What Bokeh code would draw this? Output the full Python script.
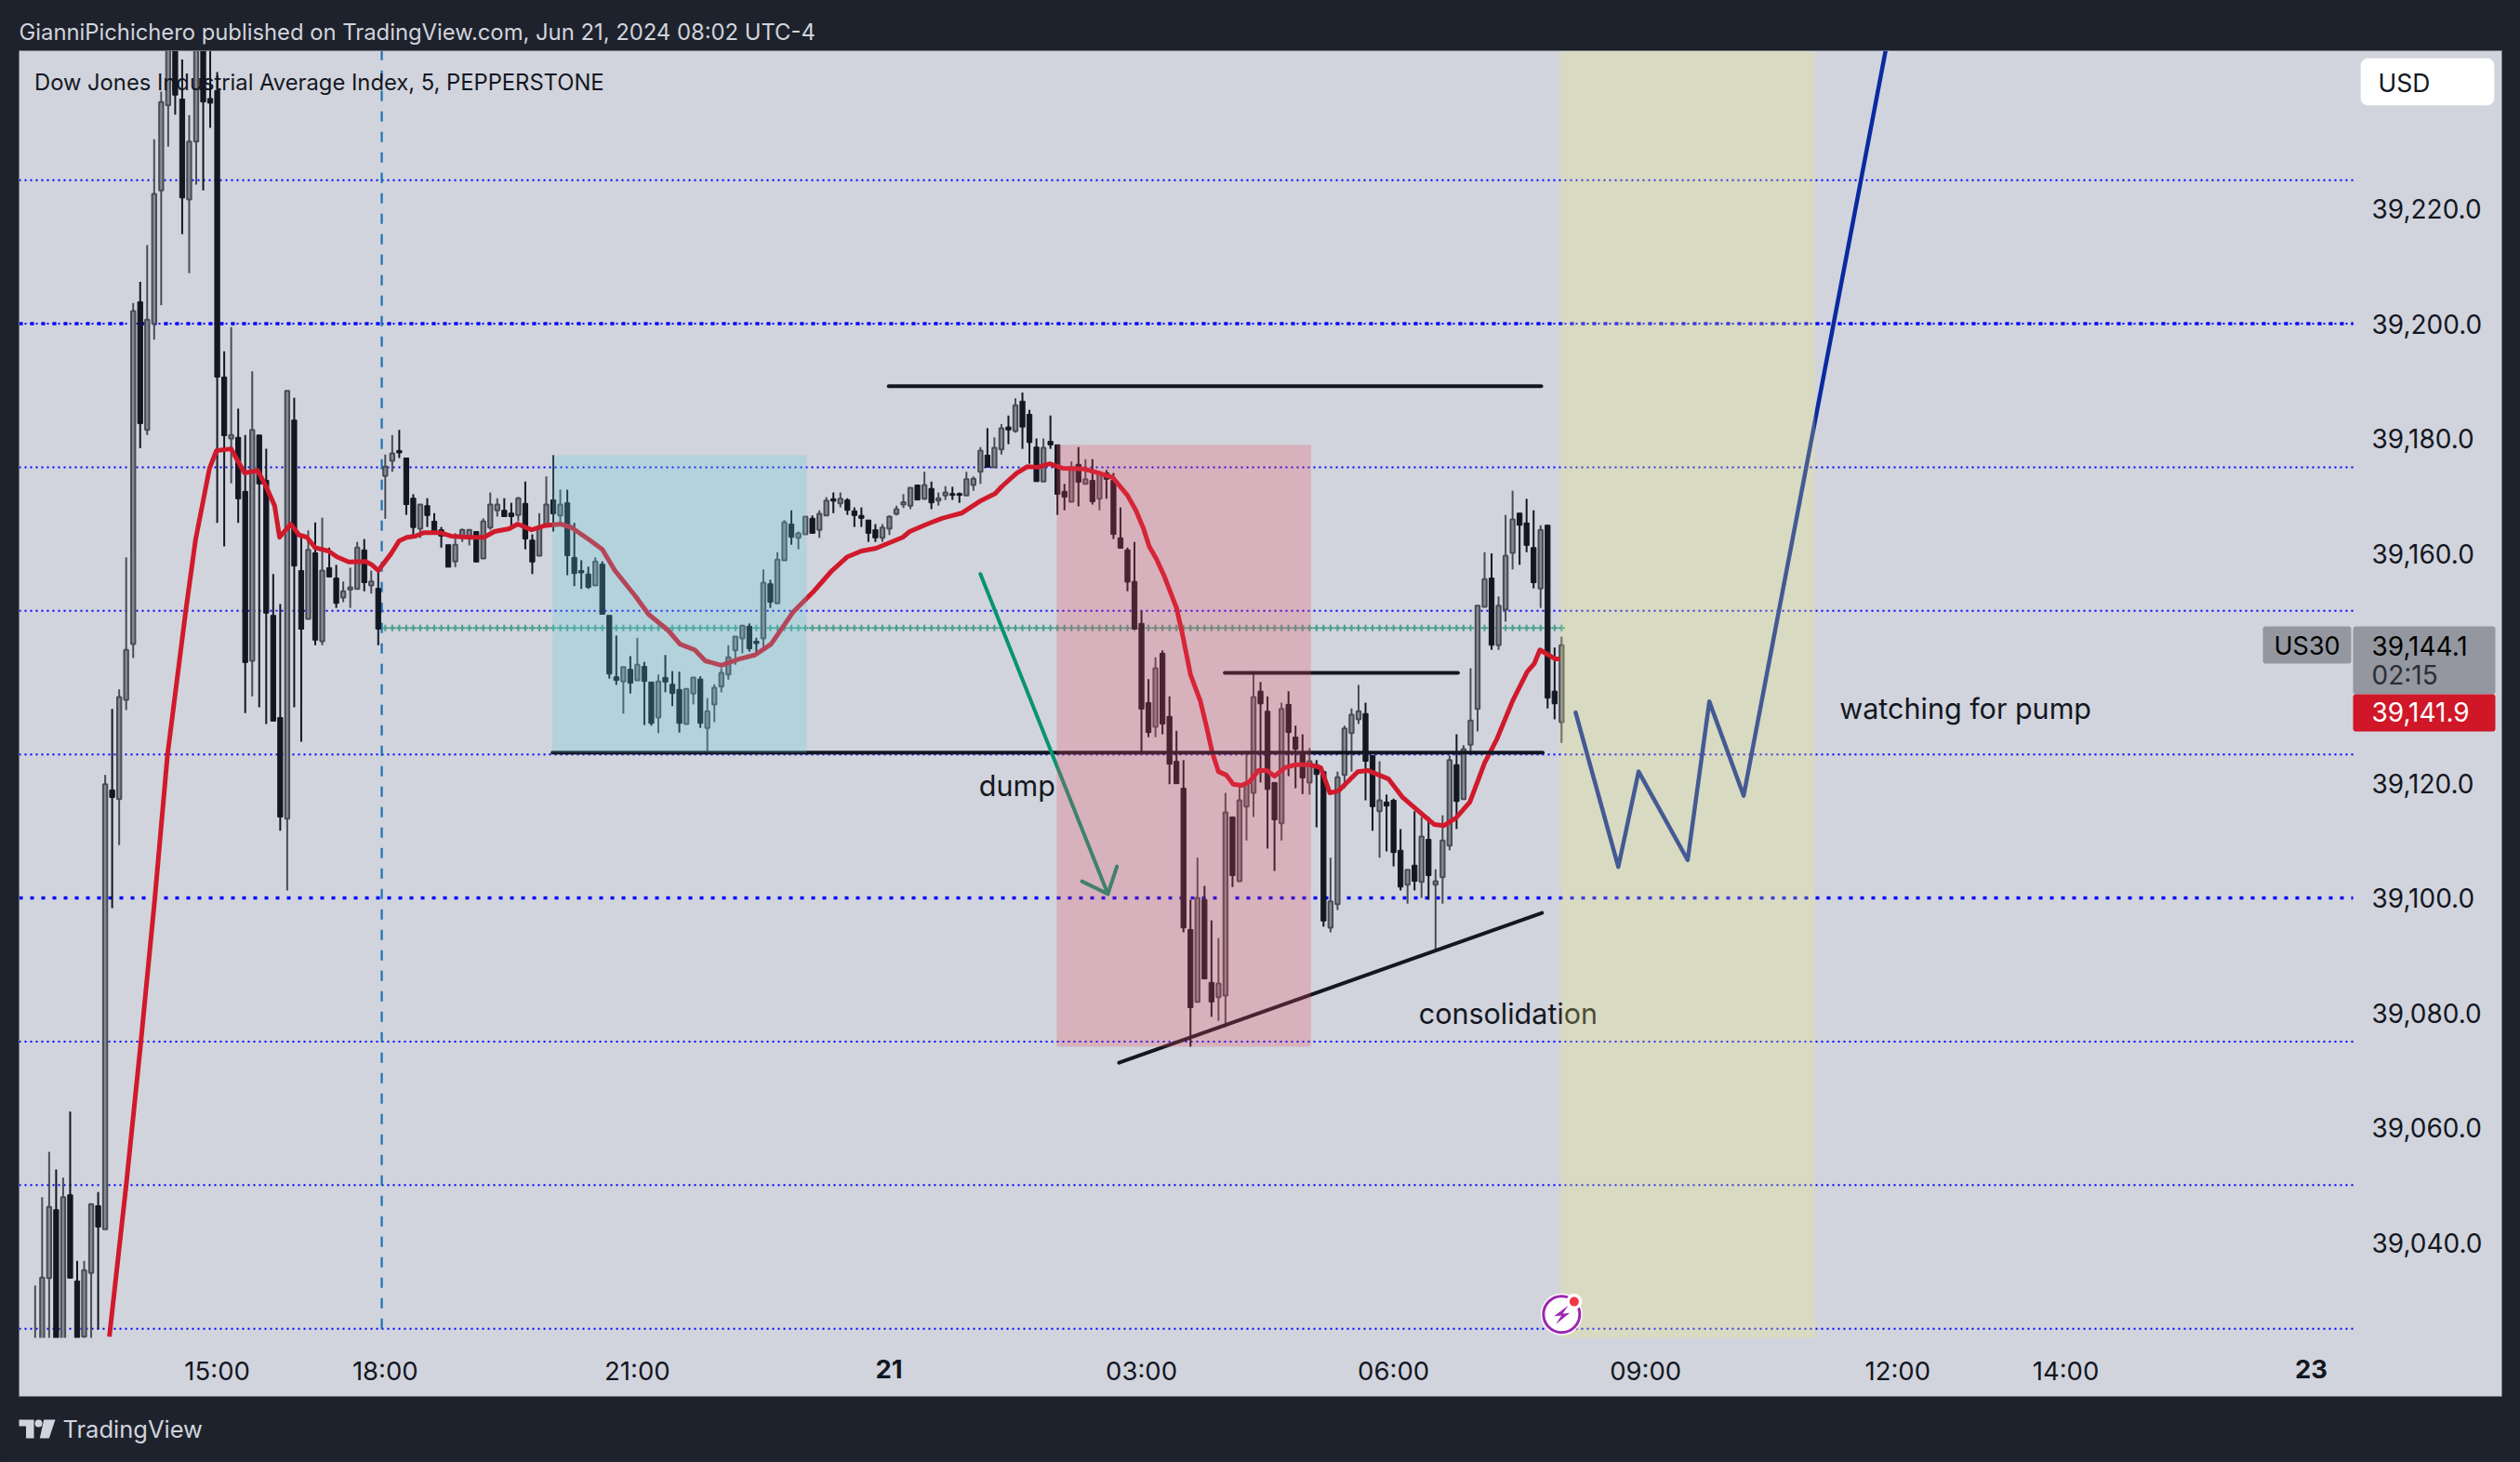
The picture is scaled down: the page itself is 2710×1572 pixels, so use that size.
from bokeh.plotting import figure
from bokeh.embed import file_html
from bokeh.resources import INLINE
from bokeh.core.properties import value
from bokeh.models import (BoxAnnotation, Label, PolyAnnotation, FixedTicker,
                          NumeralTickFormatter, Range1d)

opens = [39020,39015,39033.8,39045.7,39018,39048.3,39033.3,39023.6,39034.7,39046.4,
39042.3,39118.8,39117.2,39134.5,39144.2,39203.8,39181.5,39200,39223.2,39238,
39252,39239.1,39221.6,39231.7,39252,39239.2,39240.6,39190.7,39180,39180.2,
39170.8,39141.3,39180.6,39172.7,39149.2,39131.4,39113.8,39183.2,39157,39148.6,
39160.1,39144.7,39157.5,39155.7,39152.3,39153.7,39153.8,39160.6,39154.4,39153.9,
39173.5,39176.1,39177.9,39176.6,39169.6,39164.3,39168.3,39165.6,39164.1,39161.5,
39158.6,39162.7,39163,39163.8,39159.1,39164.5,39167.5,39167.5,39167,39166.7,
39168.7,39162.3,39159.6,39165.1,39169.3,39166.6,39168.8,39159.3,39157,39156.4,
39154.4,39158.1,39149.2,39138.5,39137.7,39139.8,39137.9,39140.3,39137.6,39131.4,
39138.4,39137.2,39136.3,39130.3,39135.6,39138.1,39129.6,39133.7,39136.8,39138.9,
39143.1,39145.2,39147.3,39144.7,39145.2,39154.7,39151.3,39158.8,39165.1,39162.7,
39163.3,39166.1,39164.1,39166.6,39169.5,39168.7,39169.3,39167.4,39166.6,39165.8,
39164.1,39162.7,39164.3,39166.9,39168.5,39168.3,39171.9,39169.5,39171.3,39169.2,
39170.1,39170.4,39170.4,39170.1,39171.9,39174.2,39177.1,39175,39178.1,39182,
39181.3,39186.5,39184.2,39178.5,39172.5,39179.5,39178.9,39170.8,39169,39175.5,
39172.1,39172.7,39169.5,39174,39172.7,39162.7,39160.6,39155.1,39147.8,39134,
39129.8,39142.6,39131.6,39123.8,39119.1,39094.5,39081.9,39099.7,39085.3,39082.7,
39083,39114.1,39102.9,39115.9,39118.3,39136,39132.5,39120.1,39113,39133.7,
39128,39125.1,39120.1,39123.2,39122,39094.8,39098.9,39121.4,39128.7,39131.1,
39132.1,39124.8,39115.1,39116.7,39117,39108.3,39102.3,39105.7,39102.8,39110.2,
39102.3,39103.6,39109.1,39123.2,39117.2,39126.7,39132.9,39150.7,39155.7,39144,
39150.2,39160.1,39167,39165.3,39161,39153.9,39164.9,39136,39130.6]

highs = [39032.5,39047.9,39055.8,39052.7,39051.3,39062.8,39036.8,39036.8,39046.7,39048.8,
39121.4,39132.9,39136.3,39159.3,39203.6,39207.3,39213.7,39232.1,39240.4,39255,
39255,39246,39236.3,39255,39255,39250,39243.8,39195.2,39199.4,39185.2,
39180.6,39191.7,39180.6,39178.2,39156.4,39151.2,39188.3,39187.1,39163,39164,
39165.4,39166.2,39161,39158,39155.1,39157.5,39162,39162.5,39157,39157,
39177.2,39180.6,39181.5,39176.6,39170.3,39168.5,39169.6,39167,39164.6,39161.5,
39163.5,39164.3,39164.1,39163.8,39166.1,39170.6,39169.6,39169.6,39168.8,39169.8,
39172.5,39163.3,39167,39173.4,39177.1,39171.1,39171.1,39165.3,39158.8,39157.7,
39159.3,39158.6,39149.2,39145.7,39140.2,39142.1,39145.3,39141.1,39137.6,39138.9,
39142.3,39139.5,39139.4,39136.4,39138.4,39138.6,39134.8,39137.2,39140,39144,
39145.5,39147.4,39147.8,39145.3,39157.2,39155.4,39160.2,39165.8,39167.5,39163.8,
39166.4,39166.6,39167.5,39169.8,39170.6,39170.6,39169.6,39168,39168,39165.8,
39165.1,39165.1,39166.6,39168.3,39170.3,39171.5,39171.9,39174.2,39172.5,39170.6,
39171.7,39171.6,39170.6,39174.2,39173.4,39178.5,39181.8,39180.2,39182.5,39184,
39187,39188,39185,39180,39180,39184,39178.9,39172.1,39176,39178.5,
39176.4,39176.4,39174.2,39174.5,39174,39168,39161,39162,39150,39138.1,
39141.9,39143.1,39135.1,39129.1,39124,39099.7,39107,39102.1,39096.1,39093,
39118.3,39114.1,39119.9,39125.6,39139.5,39137.6,39135.1,39120.1,39134,39136,
39130,39128.5,39126.1,39124,39122,39107,39122,39130,39133,39137.1,
39134,39124.8,39123.8,39118,39117.3,39112,39104.9,39115.1,39114.1,39114.1,
39105,39114.4,39124.8,39128.5,39126.6,39140,39150.9,39160.2,39160,39152.5,
39166.7,39170.9,39167,39169.5,39167.5,39164.9,39164.9,39143.6,39145.5]

lows = [39015,39010,39015,39015,39015,39033.8,39015,39022,39015,39024.9,
39042.3,39098.2,39109.2,39132.7,39141.8,39178.3,39180.6,39197.2,39203.2,39230.8,
39236.4,39215.6,39208.8,39224.2,39223.2,39234.1,39165.3,39161.2,39172.2,39165.3,
39132.2,39135.1,39133.2,39130.3,39130.8,39111.7,39101.3,39133.2,39127.2,39148.6,
39144,39144,39155.9,39150.5,39151.5,39150.5,39153.8,39153.4,39153,39144,
39166,39174.2,39176.6,39166.7,39162.8,39162.7,39164.6,39163.6,39161,39157.6,
39157.6,39162,39161.4,39158.5,39159.1,39164.1,39166.4,39166.4,39164.6,39165.6,
39160.7,39156.4,39159.6,39165.1,39163.8,39165.1,39156.2,39154.3,39153.8,39153.8,
39154.4,39149.4,39138.2,39137.1,39132.1,39135.6,39137.9,39130.1,39130,39128.7,
39135.8,39133.4,39128.8,39130.3,39133.7,39129.6,39125.6,39130.6,39135.8,39138,
39140.6,39142.6,39142.9,39142.6,39143.2,39150.5,39151.3,39158.8,39161.5,39160.7,
39163.3,39163.5,39162.7,39166.6,39167,39168,39166.7,39164.6,39164.6,39162,
39162,39162,39163.2,39166.6,39167.9,39167.7,39169.3,39169.3,39167.7,39168.3,
39169.3,39169.3,39168.8,39170.1,39170.9,39172.1,39175,39175,39177.2,39179,
39181,39178.2,39175.6,39172.5,39172.5,39178.2,39166.7,39167.5,39169,39168.2,
39172.1,39168.5,39167.5,39169.5,39162.5,39160.9,39153.4,39146.8,39125.1,39128,
39128,39128.5,39119.8,39119.9,39094,39074.1,39081.9,39085.9,39079.3,39078.6,
39077.5,39101.9,39102.9,39110,39114.1,39120.1,39108.6,39104.7,39110,39121.2,
39119.1,39118.1,39118,39112.3,39095,39094,39097.9,39119.1,39122,39130.3,
39117,39111.7,39107,39108.1,39105.5,39101.3,39099,39101.3,39100,39099.7,
39091.1,39099,39108.3,39112,39117.2,39125.1,39129,39150.7,39143.2,39143.2,
39148.1,39157.2,39158,39160.2,39153.9,39150.5,39133,39131.1,39127]

closes = [39022,39033.9,39046.2,39018,39047.9,39033.8,39018,39035.2,39046.7,39042.7,
39119.8,39117.5,39135,39143.2,39202.2,39182.6,39200.7,39222.6,39238.6,39252,
39239.8,39221.9,39231.7,39250,39238.6,39238.4,39190.7,39180.5,39180.6,39169.5,
39141,39181.5,39172.1,39149.6,39130.8,39114.1,39188.3,39157.8,39146.8,39160.6,
39144.9,39157,39155.9,39151.3,39153.4,39154.1,39161,39154.9,39155.1,39146.8,
39175.1,39177.4,39177.5,39168.5,39164.5,39168.5,39166.6,39163.6,39163,39157.6,
39161.5,39164.1,39164.1,39158.5,39165.6,39168.5,39168.5,39166.4,39166.4,39169.6,
39162.5,39158.5,39164.5,39168.5,39166.9,39168.5,39159.6,39156.5,39156.6,39154.1,
39158.6,39149.4,39139,39137.9,39140.2,39137.4,39140.6,39137.7,39130.4,39137.7,
39137.6,39135.6,39130.4,39136.4,39138.4,39130.4,39132.5,39136.6,39139.2,39141.9,
39145.5,39147.4,39143.4,39144.3,39154.9,39151.5,39158.9,39165.4,39162.8,39163.5,
39166.4,39163.5,39166.9,39169.2,39169.1,39169.5,39167.5,39166.6,39166.1,39163.5,
39162.7,39164.5,39166.4,39167.7,39168.9,39171.4,39169.3,39171.9,39168.8,39169.6,
39170.6,39170.1,39170.1,39172.9,39173,39177.9,39175,39178.4,39181.8,39181.5,
39185.8,39182,39179.3,39172.5,39178.4,39178.9,39170.3,39169.8,39174.8,39172.4,
39172.9,39169,39174,39172.9,39163.3,39160.9,39155,39146.8,39132.9,39128.8,
39140,39130.3,39123.3,39119.9,39094.8,39080.9,39100,39085.9,39081.9,39085.1,
39114.9,39103.9,39117,39119.9,39135,39133.8,39118.9,39113.6,39132.9,39128.8,
39125.9,39120.9,39123.8,39121.5,39096,39099.4,39121,39129.5,39131.9,39132.5,
39123.8,39115.9,39117,39116,39107.9,39101.9,39104.9,39102.9,39110.7,39103.9,
39102.9,39110,39124,39116.8,39125.9,39130.9,39150.9,39155.5,39144,39150.9,
39159.6,39165.9,39164.9,39161.4,39154.9,39164.1,39134.8,39133.8,39144]

first_bar = -50

ema_x = [-39.4,-37,-34.9,-32.9,-31.1,-28.5,-27.1,-25.1,-24.1,-22,-21.2,-20.1,-18.2,-17,-15.8,-15.1,-13.5,
-12.3,-11.2,-10,-8.1,-6.9,-5.2,-2.8,-1.9,-1,0.8,2,3.1,4.3,5.5,7.9,9.4,12,14.1,15.6,17.7,18.9,20.9,22.7,25.1,
26.6,29.2,31,32.8,35.7,37.6,40.4,42.1,44.2,45.7,48,50.5,52.8,55.1,58.2,61.2,63.8,66,68,70.1,73.9,74.9,77.4,
79.5,82.3,85.1,87.1,88.1,90.2,91.7,93.2,94.9,96.8,99.8,101.9,103.9,106,107.2,108.3,109.1,110.1,111.3,113,
113.8,115,116.4,117.2,118.1,119,120.1,121.1,122.3,123.4,124.7,125.9,127,128.5,130,132,133.6,134.9,136.1,
138.9,140.3,143.3,145.3,147.3,149.8,151.2,152.9,154.9,157,158.7,161,163.1,164.1,164.9,167.1,167.8]
ema_y = [39023.6,39050,39074.9,39100,39124.9,39149.9,39162.3,39174.8,39177.9,39178.2,39176.4,39174,39174.4,
39171.6,39168.3,39162.8,39165.1,39163.2,39162.8,39161,39160.4,39159.4,39158.5,39158.6,39158,39157,39159.9,
39162.2,39162.8,39163,39163.6,39163.6,39163,39162.8,39162.8,39163.8,39164.3,39165.1,39164.1,39164.8,39165.1,
39164.5,39162.3,39160.7,39157,39152.6,39149.4,39146.6,39144.2,39143.2,39141.3,39140.5,39141.6,39142.3,39144.2,
39149.7,39153.4,39157,39159.4,39160.4,39160.9,39162.8,39163.8,39165.1,39166.1,39167,39169.2,39170.4,39171.7,
39174,39175.1,39175,39175.6,39174.8,39174.7,39174,39173.2,39170.1,39167.5,39164.3,39161.2,39159.1,39155.9,
39150.5,39146.2,39138.9,39134.3,39130.3,39125.4,39122,39121.4,39119.8,39119.6,39120.2,39122.2,39122.2,39121.2,
39122.7,39123.2,39123.2,39122.7,39118.3,39118.6,39122,39122.2,39120.7,39117.5,39115.4,39112.8,39112.6,39113.9,
39116.7,39123.5,39127.5,39134.3,39139.4,39140.8,39143.2,39141.6,39141.6]

price_ticks = [39220,39200,39180,39160,39120,39100,39080,39060,39040]
time_ticks = [-24,0,36,108,144,180,216,240]
time_labels = ["15:00","18:00","21:00","03:00","06:00","09:00","12:00","14:00"]

hline_levels = [39225,39200,39175,39150,39125,39075,39050,39025]
heavy_levels = [39200,39100]
session_break = -0.5
green_level = 39147

wave_x = [170,176.1,179,186,189.1,194,214.3]
wave_y = [39132.3,39105.4,39122,39106.6,39134.2,39117.8,39247.7]
arrow_x = [85,103.2]
arrow_y = [39156.4,39100.7]
head_x = [99.5,103.2,104.5]
head_y = [39102.9,39100.7,39105.5]
trend_x = [104.8,165.2]
trend_y = [39071.3,39097.4]
level_top = (71.9,165.1,39189.1)
level_mid = (119.9,153.2,39139.2)
level_low = (23.9,165.3,39125.3)
zone_blue = (23.85,60.2,39177.1,39125.3)
zone_pink = (95.9,132.2,39178.9,39074.1)
zone_yellow = (167.9,204.2,39250,39015)

INK = "#131722"
DARK = "#1e222d"
PANEL = "#d1d4dc"
UPLINE = "#4a4c55"
UPFILL = "#868993"
FONT = "Inter"
W, H = 2710, 1572


def dx(px):
    return (px - 413.8) / 7.53


def dy(py):
    return 39100 + (965 - py) / 6.175


# the frame fills the whole page; the axes are pinned inside it
p = figure(width=W, height=H, output_backend="svg", toolbar_location=None,
           x_range=Range1d(dx(0), dx(W)), y_range=Range1d(dy(H), dy(0)), y_axis_location="right",
           min_border_left=0, min_border_right=0, min_border_top=0, min_border_bottom=0,
           background_fill_color=DARK, border_fill_color=DARK, outline_line_alpha=0)
p.grid.visible = False

X0, X1 = dx(20), dx(2530)
Y1 = dy(54)


def sx(px):
    return px


def sy(py):
    return H - py


def box(l, r, t, b, color, line=None, radius=0, level="underlay", alpha=1.0):
    a = BoxAnnotation(left=sx(l), right=sx(r), top=sy(t), bottom=sy(b),
                      left_units="screen", right_units="screen",
                      top_units="screen", bottom_units="screen",
                      fill_color=color, fill_alpha=alpha, level=level,
                      line_color=line, line_alpha=1 if line else 0, line_width=1,
                      border_radius=radius, editable=False)
    p.add_layout(a)


def text(px, py, s, size=26, color=INK, style="normal", align="left"):
    p.add_layout(Label(x=sx(px), y=sy(py - 9), x_units="screen", y_units="screen", text=s,
                       text_font=FONT, text_font_size=f"{size}px", text_color=color,
                       text_font_style=style, text_baseline="alphabetic", text_align=align,
                       level="overlay"))


box(20, 2690, 54, 1501, PANEL)

# axes
ya = p.yaxis[0]
ya.fixed_location = dx(2530)
ya.ticker = FixedTicker(ticks=price_ticks)
ya.formatter = NumeralTickFormatter(format="0,0.0")
ya.axis_line_alpha = 0
ya.major_tick_line_alpha = 0
ya.minor_tick_line_alpha = 0
ya.major_tick_out = 0
ya.major_label_text_font = FONT
ya.major_label_text_font_size = "28px"
ya.major_label_text_color = INK
ya.major_label_standoff = 20

xa = p.xaxis[0]
xa.fixed_location = dy(1438)
xa.ticker = FixedTicker(ticks=time_ticks)
xa.major_label_overrides = dict(zip(time_ticks, time_labels))
xa.axis_line_alpha = 0
xa.major_tick_line_alpha = 0
xa.minor_tick_line_alpha = 0
xa.major_tick_out = 0
xa.major_label_text_font = FONT
xa.major_label_text_font_size = "27.5px"
xa.major_label_text_color = INK
xa.major_label_standoff = 18

# horizontal levels
p.segment([X0] * len(hline_levels), hline_levels, [X1] * len(hline_levels), hline_levels,
          line_color="#0000ff", line_width=2, line_dash="2 4")
p.segment([X0] * 2, heavy_levels, [X1] * 2, heavy_levels, line_color="#0000ff", line_width=3.5, line_dash="4 8")

# session break
p.segment([session_break], [39025], [session_break], [Y1], line_color="#1a72b5", line_width=2.2, line_dash="11 11")

# plotted average level
bars = list(range(first_bar, first_bar + len(opens)))
plus_x = [b for b in bars if b >= 0]
p.scatter(plus_x, [green_level] * len(plus_x), marker="cross", size=7, line_color="#4a9f8c", line_width=2)

# candles
up = [i for i in range(len(opens)) if closes[i] >= opens[i]]
dn = [i for i in range(len(opens)) if closes[i] < opens[i]]
p.segment([bars[i] for i in up], [lows[i] for i in up], [bars[i] for i in up], [highs[i] for i in up],
          line_color=UPLINE, line_width=2)
p.segment([bars[i] for i in dn], [lows[i] for i in dn], [bars[i] for i in dn], [highs[i] for i in dn],
          line_color=INK, line_width=2)
p.vbar(x=[bars[i] for i in up], top=[closes[i] for i in up], bottom=[opens[i] for i in up], width=0.58,
       fill_color=UPFILL, line_color=UPLINE, line_width=2)
p.vbar(x=[bars[i] for i in dn], top=[opens[i] for i in dn], bottom=[closes[i] for i in dn], width=0.7,
       fill_color=INK, line_color=INK, line_width=1)

# moving average
p.line(ema_x, ema_y, line_color="#d01a2c", line_width=5, line_join="round")

# drawings
for lv in (level_top, level_mid, level_low):
    p.line([lv[0], lv[1]], [lv[2], lv[2]], line_color=INK, line_width=4, line_cap="round")
p.line(trend_x, trend_y, line_color=INK, line_width=4, line_cap="round")
p.line(arrow_x, arrow_y, line_color="#089470", line_width=4, line_cap="round")
p.line(head_x, head_y, line_color="#089470", line_width=4, line_cap="round", line_join="round")
p.line(wave_x, wave_y, line_color="#0a2a9f", line_width=4.5, line_cap="round", line_join="round")

for tx, ty, s in ((84.8, 39119.6, "dump"), (147.6, 39080, "consolidation"), (207.7, 39133.1, "watching for pump")):
    p.text([tx], [ty], text=[s], text_font=value(FONT), text_font_size="30.5px", text_color=INK,
           text_baseline="alphabetic")

# tinted zones sit over everything drawn on the chart
for z, col in ((zone_blue, "#61ccdc"), (zone_pink, "#ed485c"), (zone_yellow, "#f5ec74")):
    p.quad(left=[z[0]], right=[z[1]], top=[z[2]], bottom=[z[3]], fill_color=col, fill_alpha=0.25, line_alpha=0)

# page chrome hides what overflows the chart pane (axes are drawn above these)
p.quad(left=[dx(0)], right=[dx(W)], top=[dy(0)], bottom=[dy(54)], fill_color=DARK, line_alpha=0)
p.quad(left=[dx(0)], right=[dx(20)], top=[dy(0)], bottom=[dy(H)], fill_color=DARK, line_alpha=0)
p.quad(left=[dx(20)], right=[dx(2690)], top=[dy(1438)], bottom=[dy(1501)], fill_color=PANEL, line_alpha=0)
p.quad(left=[dx(0)], right=[dx(W)], top=[dy(1501)], bottom=[dy(H)], fill_color=DARK, line_alpha=0)
box(20, 2690, 54, 1501, None, line="#6f737e", level="annotation", alpha=0)

# news marker
p.scatter([168], [39027.5], marker="circle", size=45, fill_color="#ffffff", line_alpha=0)
p.scatter([168], [39027.5], marker="circle", size=39, fill_color="#ffffff", line_color="#9c27b0", line_width=3)
p.scatter([169.8], [39029.7], marker="circle", size=17, fill_color="#ffffff", line_alpha=0)
p.scatter([169.8], [39029.7], marker="circle", size=10, fill_color="#f23645", line_alpha=0)
bolt = [(258, 190), (212, 224), (236, 222), (218, 250), (263, 214), (240, 216)]
p.add_layout(PolyAnnotation(xs=[sx(1600 + a / 3) for a, _ in bolt], ys=[sy(1340 + b / 3) for _, b in bolt],
                            xs_units="screen", ys_units="screen", fill_color="#9c27b0", fill_alpha=1,
                            line_alpha=0, level="overlay", editable=False))

# chrome texts
text(20, 43, "GianniPichichero published on TradingView.com, Jun 21, 2024 08:02 UTC-4", 23.8, PANEL)
text(36.5, 97, "Dow Jones Industrial Average Index, 5, PEPPERSTONE", 23.75)
text(67, 1545, "TradingView", 25.5, PANEL)
text(955.6, 1480, "21", 27.5, INK, "bold", "center")
text(2485, 1480, "23", 27.5, INK, "bold", "center")

# TradingView logo
logo_t = [(20, 1526), (36, 1526), (36, 1546), (27.5, 1546), (27.5, 1533), (20, 1533)]
logo_v = [(46.7, 1526), (59, 1526), (52.3, 1546), (42.3, 1546)]
for poly in (logo_t, logo_v):
    p.add_layout(PolyAnnotation(xs=[sx(a) for a, _ in poly], ys=[sy(b) for _, b in poly],
                                xs_units="screen", ys_units="screen", fill_color=PANEL, fill_alpha=1,
                                line_alpha=0, level="overlay", editable=False))
box(37, 45, 1526, 1534, PANEL, radius=4, level="overlay")

# price scale tags
box(2538, 2682, 62, 113, "#ffffff", line="#e0e3eb", radius=8, level="overlay")
text(2557, 97, "USD", 26.5)
box(2433, 2528, 673, 713, "#94979f", radius=3, level="overlay")
box(2530, 2683, 673, 746, "#94979f", radius=3, level="overlay")
box(2530, 2683, 746, 786, "#cf1728", radius=3, level="overlay")
text(2445, 703, "US30", 27, "#000000")
text(2550, 703, "39,144.1", 28, "#000000")
text(2550, 734, "02:15", 28, "#2a2e39")
text(2550, 774, "39,141.9", 28, "#ffffff")

html = file_html(p, INLINE)
html = html.replace("<body>", f'<body style="background:{DARK};overflow:hidden">')
open("out.html", "w").write(html)
